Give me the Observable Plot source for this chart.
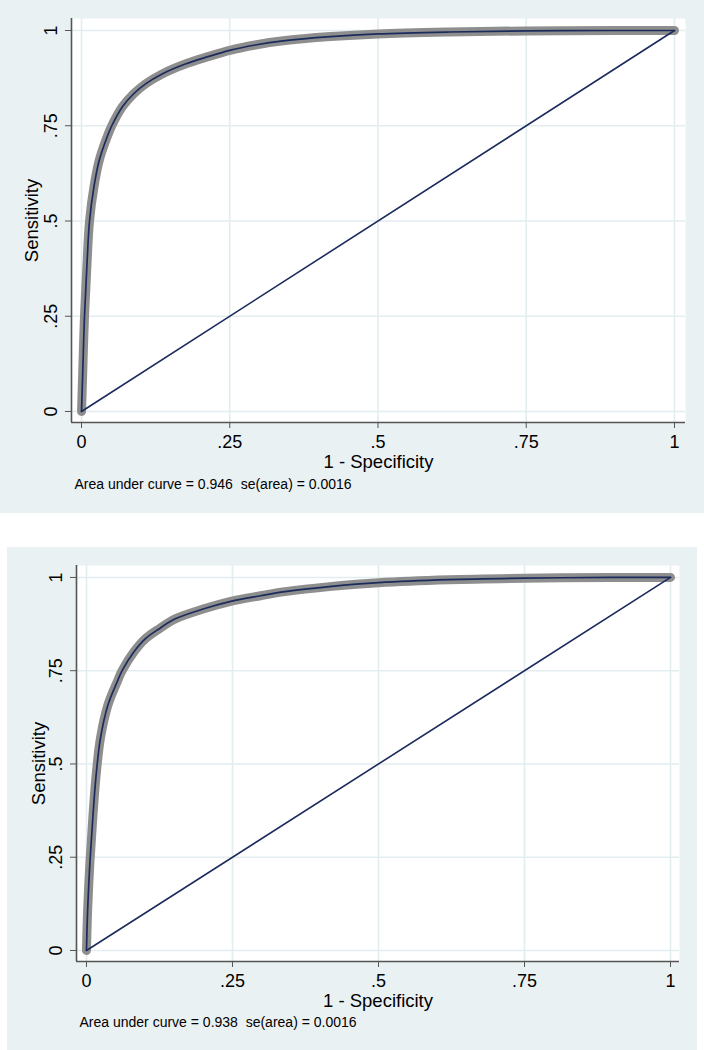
<!DOCTYPE html>
<html>
<head>
<meta charset="utf-8">
<script src="https://cdn.jsdelivr.net/npm/d3@7"></script>
<script src="https://cdn.jsdelivr.net/npm/@observablehq/plot@0.6"></script>
<style>
  html, body { margin: 0; padding: 0; background: #ffffff; }
  body { width: 704px; height: 1050px; position: relative; font-family: "Liberation Sans", Arial, sans-serif; }
  .panel { position: absolute; background: #eaf1f3; }
  .panel svg { display: block; }
</style>
</head>
<body>
<div id="p1" class="panel" style="left:0px; top:0px; width:704px; height:513px;"></div>
<div id="p2" class="panel" style="left:7px; top:547px; width:690px; height:503px;"></div>
<script>
// ---- Data ----
const fpr1 = [0, 0.002, 0.005, 0.009, 0.0135, 0.021, 0.030, 0.043, 0.051, 0.069, 0.088, 0.108, 0.136, 0.175, 0.215, 0.25, 0.293, 0.34, 0.42, 0.5, 0.62, 0.75, 0.9, 1];
const tpr1 = [0, 0.10, 0.25, 0.38, 0.50, 0.59, 0.66, 0.72, 0.75, 0.80, 0.834, 0.86, 0.886, 0.912, 0.932, 0.948, 0.962, 0.973, 0.984, 0.991, 0.996, 0.999, 1, 1];

const fpr2 = [0, 0.002, 0.006, 0.011, 0.0165, 0.024, 0.0365, 0.0525, 0.061, 0.081, 0.101, 0.124, 0.152, 0.201, 0.247, 0.298, 0.34, 0.42, 0.5, 0.62, 0.75, 0.9, 1];
const tpr2 = [0, 0.11, 0.24, 0.36, 0.47, 0.57, 0.657, 0.72, 0.75, 0.80, 0.836, 0.862, 0.889, 0.916, 0.936, 0.951, 0.962, 0.976, 0.986, 0.994, 0.998, 1, 1];

const refX = [0, 1];
const refY = [0, 1];

const ticks = [0, 0.25, 0.5, 0.75, 1];
const tickLabels = ["0", ".25", ".5", ".75", "1"];

const xTitle = "1 - Specificity";
const yTitle = "Sensitivity";
const caption1 = "Area under curve = 0.946  se(area) = 0.0016";
const caption2 = "Area under curve = 0.938  se(area) = 0.0016";

// ---- Styles ----
const gray = "#8e8e8e";
const navy = "#1b2b5c";
const axisCol = "#555555";
const gridCol = "#e3edf0";

function rocPlot(cfg) {
  const curve = cfg.fpr.map((f, i) => ({x: f, y: cfg.tpr[i]}));
  const diag = refX.map((f, i) => ({x: f, y: refY[i]}));
  const fmt = d => tickLabels[ticks.indexOf(d)];
  return Plot.plot({
    width: cfg.width,
    height: cfg.height,
    marginLeft: cfg.ml,
    marginRight: cfg.mr,
    marginTop: cfg.mt,
    marginBottom: cfg.mb,
    style: {background: "transparent", fontFamily: "'Liberation Sans', Arial, sans-serif", fontSize: "18px", color: "#000"},
    x: {domain: cfg.xd, label: null},
    y: {domain: cfg.yd, label: null},
    marks: [
      Plot.frame({fill: "white", stroke: null}),
      Plot.gridX({ticks, stroke: gridCol, strokeOpacity: 1, strokeWidth: 1.6}),
      Plot.gridY({ticks, stroke: gridCol, strokeOpacity: 1, strokeWidth: 1.6}),
      Plot.ruleX([cfg.xd[0]], {stroke: axisCol, strokeWidth: 1.6}),
      Plot.ruleY([cfg.yd[0]], {stroke: axisCol, strokeWidth: 1.6}),
      Plot.axisX({ticks, tickFormat: fmt, tickSize: 6, tickPadding: 7, stroke: axisCol, fill: "#000", label: null, fontSize: 18}),
      Plot.axisY({ticks, tickFormat: () => "", tickSize: 6, stroke: axisCol, label: null}),
      Plot.text(ticks, {y: d => d, text: fmt, frameAnchor: "left", dx: cfg.ytdx, rotate: -90, textAnchor: "middle", lineAnchor: "middle", fontSize: 18, fill: "#000"}),
      Plot.text([xTitle], {frameAnchor: "bottom", dy: cfg.xtdy, lineAnchor: "middle", textAnchor: "middle", fontSize: 18.5, fill: "#000"}),
      Plot.text([yTitle], {frameAnchor: "left", dx: cfg.ytitledx, rotate: -90, lineAnchor: "middle", textAnchor: "middle", fontSize: 18.5, fill: "#000"}),
      Plot.text([cfg.caption], {frameAnchor: "bottom-left", dx: 3, dy: cfg.capdy, textAnchor: "start", lineAnchor: "middle", fontSize: 14, fill: "#000"}),
      Plot.line(curve, {x: "x", y: "y", stroke: gray, strokeWidth: 9, strokeLinecap: "round", strokeLinejoin: "round", curve: "catmull-rom"}),
      Plot.line(diag, {x: "x", y: "y", stroke: navy, strokeWidth: 1.6}),
      Plot.line(curve, {x: "x", y: "y", stroke: navy, strokeWidth: 1.7, curve: "catmull-rom"})
    ]
  });
}

document.getElementById("p1").appendChild(rocPlot({
  width: 704, height: 513, ml: 71, mr: 19, mt: 18, mb: 91,
  xd: [-0.0169, 1.0186], yd: [-0.0289, 1.0315],
  fpr: fpr1, tpr: tpr1, caption: caption1,
  ytdx: -20, ytitledx: -39, xtdy: 40, capdy: 62
}));

document.getElementById("p2").appendChild(rocPlot({
  width: 690, height: 503, ml: 69, mr: 18, mt: 18, mb: 89,
  xd: [-0.0171, 1.0154], yd: [-0.0295, 1.032],
  fpr: fpr2, tpr: tpr2, caption: caption2,
  ytdx: -20, ytitledx: -37, xtdy: 40, capdy: 61
}));
</script>
</body>
</html>
